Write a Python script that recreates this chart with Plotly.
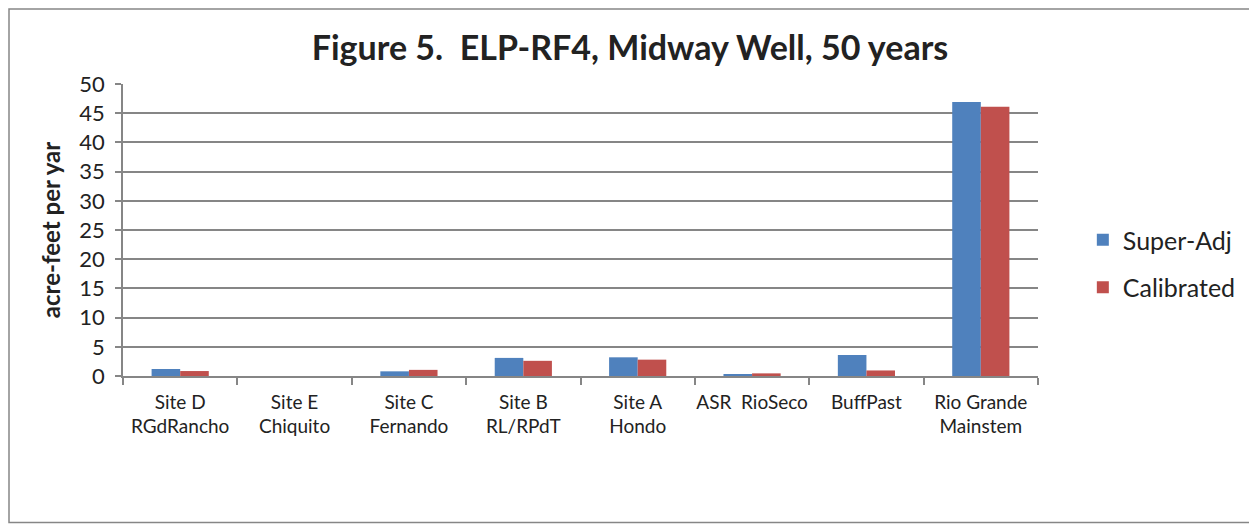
import plotly.graph_objects as go

categories = ["Site D<br>RGdRancho", "Site E<br>Chiquito", "Site C<br>Fernando",
              "Site B<br>RL/RPdT", "Site A<br>Hondo", "ASR  RioSeco",
              "BuffPast", "Rio Grande<br>Mainstem"]
super_adj = [1.2, 0.0, 0.8, 3.1, 3.2, 0.25, 3.6, 46.9]
calibrated = [0.85, 0.0, 1.05, 2.6, 2.8, 0.45, 0.95, 46.1]

FONT = "Lato, 'Liberation Sans', sans-serif"
GRID = "#868686"

# page body has an 8px margin, so the figure is laid out 8px smaller
W, H = 1249, 517
L, T, PW, PH = 115, 76, 915, 292

fig = go.Figure()
fig.add_trace(go.Bar(x=categories, y=super_adj, name="Super-Adj",
                     marker=dict(color="#4F81BD", line=dict(width=0)), legendgroup="a"))
fig.add_trace(go.Bar(x=categories, y=calibrated, name="Calibrated",
                     marker=dict(color="#C0504D", line=dict(width=0)), legendgroup="b"))

fig.update_layout(
    width=W, height=H,
    margin=dict(l=L, r=W - L - PW, t=T, b=H - T - PH, pad=0),
    paper_bgcolor="white", plot_bgcolor="white",
    font=dict(family=FONT, color="#222222"),
    barmode="group", bargap=0.5, bargroupgap=0,
    title=dict(text="<b>Figure 5.&nbsp; ELP-RF4, Midway Well, 50 years</b>",
               x=0.498, xanchor="center", y=1 - 40 / H, yanchor="middle",
               font=dict(size=34, family=FONT, color="#222222")),
    legend=dict(x=1.049, xanchor="left", y=0.385, yanchor="middle",
                font=dict(size=25, family=FONT), tracegroupgap=12,
                itemwidth=30, bgcolor="rgba(0,0,0,0)"),
    showlegend=True,
)

fig.update_yaxes(range=[0, 50], dtick=5, showgrid=True, gridcolor=GRID, gridwidth=1.5,
                 showline=True, linecolor=GRID, linewidth=1.5,
                 ticks="outside", ticklen=6, tickcolor=GRID, tickwidth=1.5,
                 tickfont=dict(size=22, family=FONT), zeroline=False,
                 ticklabelstandoff=6,
                 title=dict(text="<b>acre-feet per yar</b>", font=dict(size=24, family=FONT),
                            standoff=12))
fig.update_xaxes(showline=True, linecolor=GRID, linewidth=1.5,
                 ticks="outside", tickson="boundaries", ticklen=7, tickcolor=GRID,
                 tickwidth=1.5, tickangle=0, tickfont=dict(size=19, family=FONT),
                 ticklabelstandoff=8, showgrid=False)

# outer chart border
fig.add_shape(type="rect", xref="paper", yref="paper",
              x0=(1 - L) / PW, x1=(1242 - L) / PW,
              y0=(T + PH - 514.5) / PH, y1=(T + PH - 1) / PH,
              line=dict(color=GRID, width=1.5), layer="below")

fig.write_html("out.html")
